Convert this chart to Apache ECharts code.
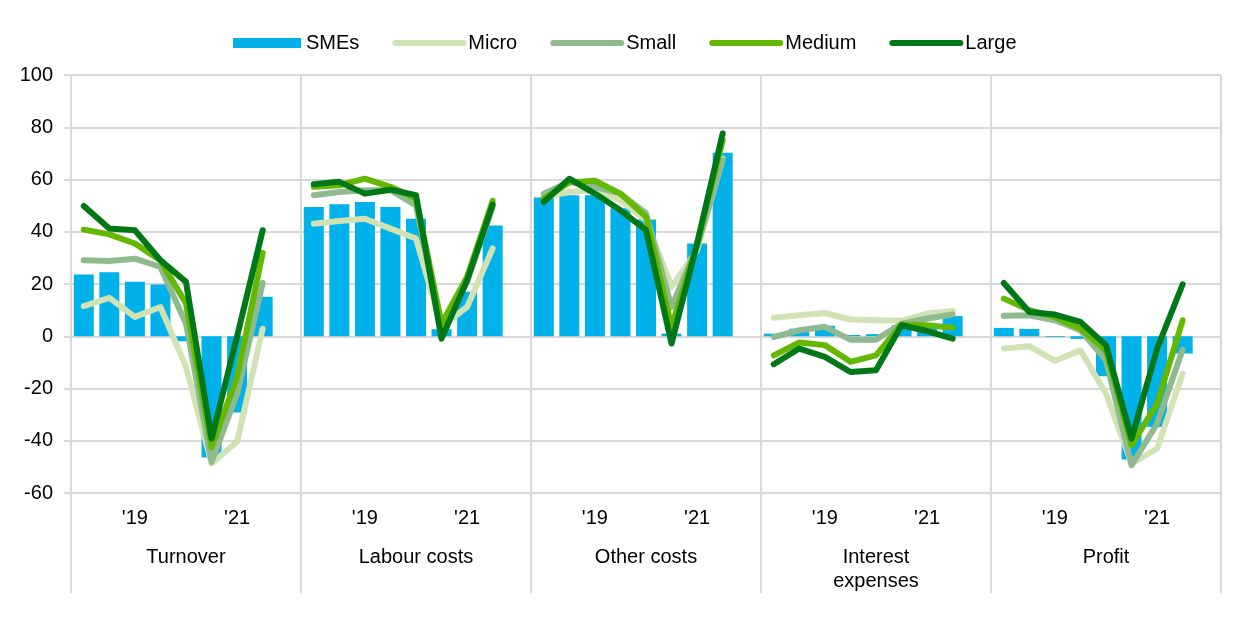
<!DOCTYPE html>
<html>
<head>
<meta charset="utf-8">
<script src="https://cdn.jsdelivr.net/npm/echarts@6/dist/echarts.min.js"></script>
<style>
html,body{margin:0;padding:0;background:#fff;}
#chart{width:1240px;height:630px;}
</style>
</head>
<body>
<div id="chart"></div>
<script>
// Groups (indicators) and period tick labels (8 half-year periods + 1 blank slot per group)
const groups = ['Turnover', 'Labour costs', 'Other costs', 'Interest\nexpenses', 'Profit'];
const periodLabels = ['', '', "'19", '', '', '', "'21", '', ''];

// Values per group (8 periods each)
const smes = [
  [23.6, 24.5, 20.9, 19.8, -1.9, -46.4, -29.2, 15.1],
  [49.5, 50.5, 51.4, 49.5, 45.0, 2.7, 17.0, 42.4],
  [53.1, 54.0, 54.0, 49.0, 44.7, 1.0, 35.5, 70.2],
  [1.0, 2.9, 4.0, 0.5, 0.8, 4.2, 4.2, 7.7],
  [3.2, 2.8, -0.3, -1.0, -15.3, -47.2, -34.7, -6.6]
];
const micro = [
  [11.5, 14.7, 7.4, 11.2, -11.7, -48.7, -40.4, 2.9],
  [43.1, 44.1, 45.0, 41.2, 37.4, 3.6, 11.2, 33.6],
  [53.3, 55.2, 55.9, 52.0, 44.4, 18.9, 32.9, 68.0],
  [7.1, 8.0, 8.9, 6.4, 6.1, 5.9, 8.7, 9.7],
  [-4.7, -3.8, -9.4, -5.4, -21.9, -48.7, -43.0, -14.3]
];
const small = [
  [29.1, 28.8, 29.7, 26.5, 4.8, -48.1, -22.0, 20.4],
  [54.0, 55.2, 55.9, 55.9, 50.1, 2.0, 21.0, 49.5],
  [54.6, 59.1, 57.2, 54.6, 47.0, 11.2, 34.2, 67.4],
  [-0.3, 2.3, 3.6, -1.3, -1.3, 4.8, 6.8, 8.3],
  [7.8, 8.0, 6.1, 2.3, -9.2, -49.4, -33.4, -5.1]
];
const medium = [
  [40.8, 39.0, 35.5, 29.0, 12.5, -42.4, -15.6, 31.9],
  [57.2, 57.8, 60.3, 57.2, 52.7, 4.8, 22.7, 51.8],
  [52.7, 58.9, 59.5, 54.6, 45.7, 3.6, 35.5, 75.0],
  [-7.3, -2.4, -3.4, -9.8, -7.3, 4.5, 4.2, 3.3],
  [14.4, 10.0, 7.4, 2.9, -5.4, -41.7, -25.8, 6.1]
];
const large = [
  [49.9, 41.2, 40.6, 29.1, 20.8, -39.2, 0.0, 40.6],
  [58.2, 59.1, 54.6, 56.1, 54.0, -0.9, 21.4, 50.4],
  [51.4, 60.3, 54.6, 48.2, 40.6, -2.8, 35.5, 77.6],
  [-10.7, -4.7, -7.9, -13.7, -13.0, 4.2, 2.0, -0.9],
  [20.4, 9.3, 8.3, 5.5, -3.4, -39.2, -4.7, 19.9]
];

// Flatten with a blank slot after each group
function flat(arr) {
  const out = [];
  arr.forEach(g => { g.forEach(v => out.push(v)); out.push(null); });
  return out;
}
const cats = [];
groups.forEach((g, gi) => periodLabels.forEach((p, pi) => cats.push(gi + '|' + pi)));

const FONT = '"Liberation Sans", Arial, sans-serif';
const GRID_COLOR = '#d9d9d9';

function lineSeries(name, data, color, z) {
  return {
    name, type: 'line', data: flat(data), xAxisIndex: 0,
    symbol: 'none', connectNulls: false, z,
    lineStyle: { color, width: 6, cap: 'round', join: 'round' },
    itemStyle: { color },
    emphasis: { disabled: true }
  };
}
const hiddenDot = { color: 'rgba(0,0,0,0)', borderWidth: 0, opacity: 0 };

const chart = echarts.init(document.getElementById('chart'), null, { renderer: 'canvas' });
chart.setOption({
  animation: false,
  backgroundColor: '#ffffff',
  textStyle: { fontFamily: FONT, color: '#000' },
  legend: {
    top: 28, left: 228,
    itemWidth: 68, itemHeight: 10, itemGap: 33,
    textStyle: { fontSize: 20, color: '#000', fontFamily: FONT },
    lineStyle: { width: 6, cap: 'round' },
    data: [
      { name: 'SMEs', icon: 'rect' },
      { name: 'Micro', itemStyle: hiddenDot },
      { name: 'Small', itemStyle: hiddenDot },
      { name: 'Medium', itemStyle: hiddenDot },
      { name: 'Large', itemStyle: hiddenDot }
    ]
  },
  grid: { left: 71, right: 19, top: 75, bottom: 137, containLabel: false },
  xAxis: [
    {
      type: 'category', data: cats, boundaryGap: true, position: 'bottom',
      axisLine: { show: false }, axisTick: { show: false },
      axisLabel: {
        interval: 0, fontSize: 20, color: '#000', margin: 15, fontFamily: FONT,
        formatter: v => periodLabels[+v.split('|')[1]]
      },
      splitLine: { show: false }
    },
    {
      type: 'category', data: groups, boundaryGap: true, position: 'bottom',
      axisLine: { show: false },
      axisTick: { show: true, interval: 0, length: 100, lineStyle: { color: GRID_COLOR, width: 2 } },
      axisLabel: { interval: 0, fontSize: 20, color: '#000', margin: 52, lineHeight: 24, fontFamily: FONT, verticalAlign: 'top' },
      splitLine: { show: true, interval: 0, lineStyle: { color: GRID_COLOR, width: 2 } }
    }
  ],
  yAxis: {
    type: 'value', min: -60, max: 100, interval: 20,
    axisLine: { show: false },
    axisTick: { show: true, length: 7, lineStyle: { color: GRID_COLOR, width: 2 } },
    axisLabel: { fontSize: 20, color: '#000', margin: 18, fontFamily: FONT },
    splitLine: { show: true, lineStyle: { color: GRID_COLOR, width: 2 } }
  },
  series: [
    {
      name: 'SMEs', type: 'bar', data: flat(smes), xAxisIndex: 0,
      barWidth: 20, itemStyle: { color: '#00b1ea' }, z: 2,
      emphasis: { disabled: true }
    },
    lineSeries('Micro', micro, '#d1e2b4', 3),
    lineSeries('Small', small, '#8fba8f', 4),
    lineSeries('Medium', medium, '#65b800', 5),
    lineSeries('Large', large, '#007816', 6)
  ]
});
</script>
</body>
</html>
